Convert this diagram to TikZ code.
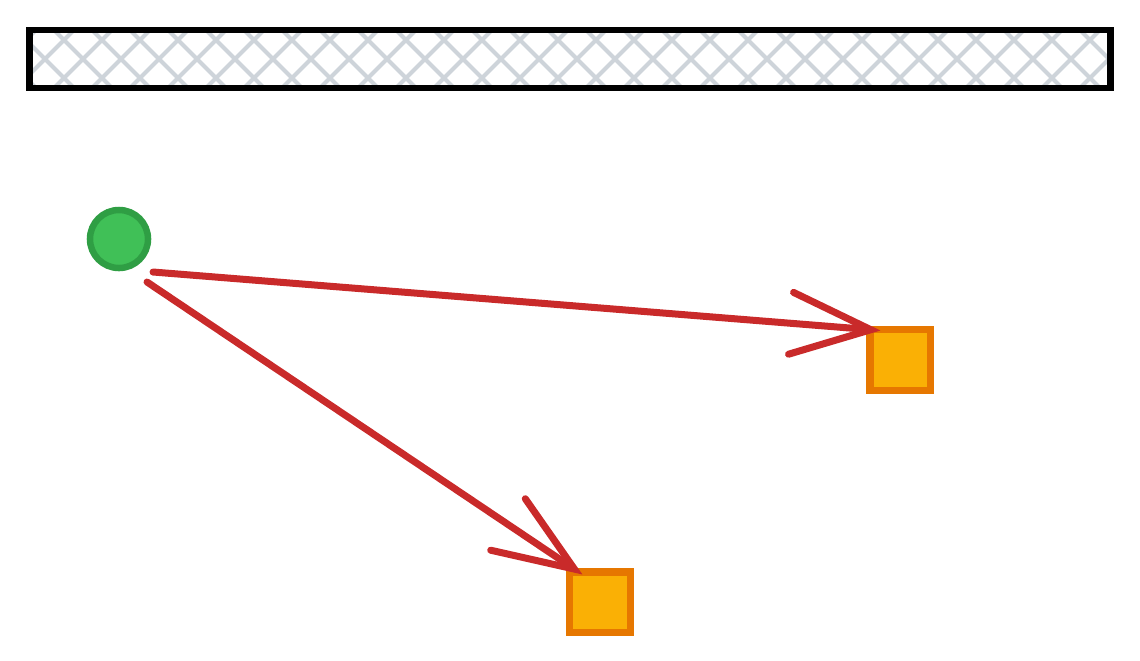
\documentclass[tikz,border=0pt]{standalone}
\usepackage{tikz}
\usetikzlibrary{arrows.meta,positioning,calc}

\definecolor{barline}{HTML}{000000}
\definecolor{hatchgrey}{HTML}{CED4DA}
\definecolor{dotfill}{HTML}{40C057}
\definecolor{dotline}{HTML}{2F9E44}
\definecolor{boxfill}{HTML}{FAB005}
\definecolor{boxline}{HTML}{E67700}
\definecolor{linkred}{HTML}{C92A2A}

\tikzset{
  dot/.style={circle,draw=dotline,fill=dotfill,line width=0.065cm,minimum size=0.58cm,inner sep=0pt},
  box/.style={rectangle,draw=boxline,fill=boxfill,line width=0.07cm,minimum size=0.6cm,inner sep=0pt},
  link/.style={draw=linkred,line width=0.07cm,line cap=round,
    -{Straight Barb[length=0.8cm,width=0.62cm,line cap=round]}},
  hatch/.style={draw=hatchgrey,line width=0.04cm}
}

\begin{document}
\begin{tikzpicture}[x=0.01cm,y=-0.01cm]
  \useasboundingbox (0,0) rectangle (1140,660);
  % Define the hatched bar at the top
  \begin{scope}
    \clip (30,30) rectangle (1110,88);
    \foreach \x in {-60,-22,...,1120}
      \draw[hatch] (\x,30) -- ++(58,58) (\x,88) -- ++(58,-58);
  \end{scope}
  \path (570,59) node[draw=barline,line width=0.065cm,minimum width=10.8cm,minimum height=0.58cm,inner sep=0pt] (bar) {};
  % Define the source and the two targets
  \path (119,239) node[dot] (src) {};
  \path (900,360) node[box] (tgtA) {};
  \path (600,602) node[box] (tgtB) {};
  % Draw the two links
  \coordinate (startA) at (153,272);
  \coordinate (startB) at (147,282);
  \draw[link] (startA) -- ($(tgtA.north west)+(14,4)$);
  \draw[link] (startB) -- ($(tgtB.north west)+(16,6)$);
\end{tikzpicture}
\end{document}
